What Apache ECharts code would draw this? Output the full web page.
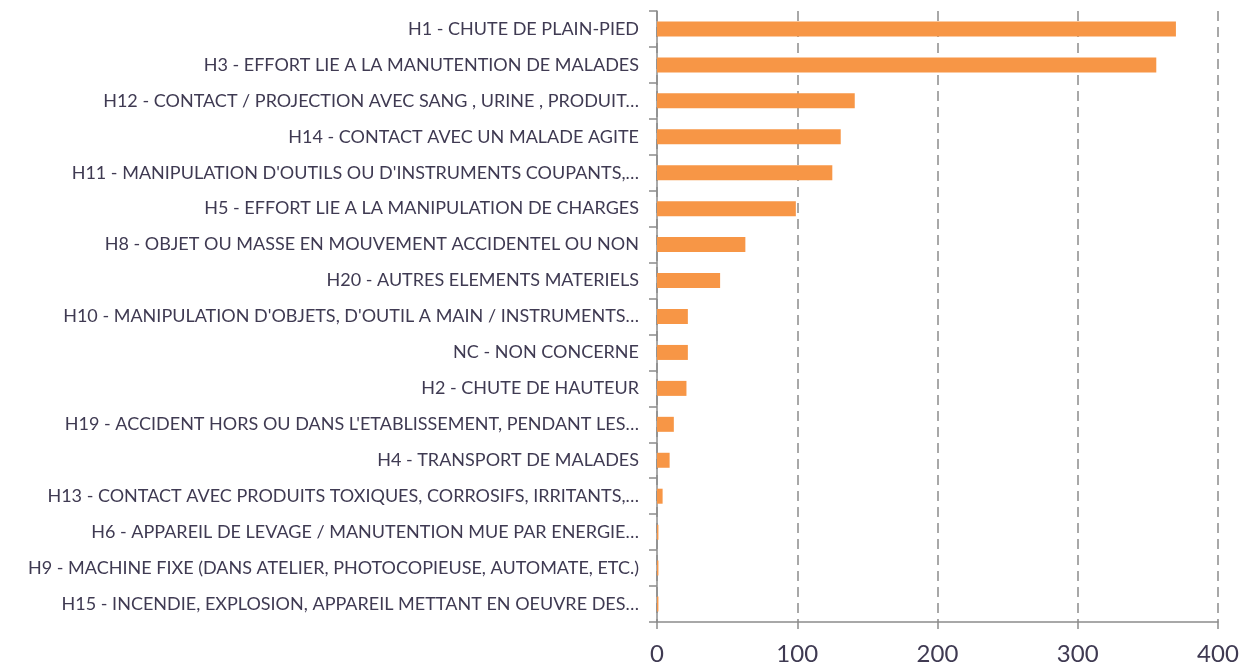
<!DOCTYPE html>
<html>
<head>
<meta charset="utf-8">
<script src="https://cdn.jsdelivr.net/npm/echarts@6/dist/echarts.min.js"></script>
<style>
  html, body { margin: 0; padding: 0; background: #fff; }
  #chart { width: 1255px; height: 668px; }
</style>
</head>
<body>
<div id="chart"></div>
<script>
// categories (top to bottom)
var categories = [
  'H1 - CHUTE DE PLAIN-PIED',
  'H3 - EFFORT LIE A LA MANUTENTION DE MALADES',
  'H12 - CONTACT / PROJECTION AVEC SANG , URINE , PRODUIT…',
  'H14 - CONTACT AVEC UN MALADE AGITE',
  "H11 - MANIPULATION D'OUTILS OU D'INSTRUMENTS COUPANTS,…",
  'H5 - EFFORT LIE A LA MANIPULATION DE CHARGES',
  'H8 - OBJET OU MASSE EN MOUVEMENT ACCIDENTEL OU NON',
  'H20 - AUTRES ELEMENTS MATERIELS',
  "H10 - MANIPULATION D'OBJETS, D'OUTIL A MAIN / INSTRUMENTS…",
  'NC - NON CONCERNE',
  'H2 - CHUTE DE HAUTEUR',
  "H19 - ACCIDENT HORS OU DANS L'ETABLISSEMENT, PENDANT LES…",
  'H4 - TRANSPORT DE MALADES',
  'H13 - CONTACT AVEC PRODUITS TOXIQUES, CORROSIFS, IRRITANTS,…',
  'H6 - APPAREIL DE LEVAGE / MANUTENTION MUE PAR ENERGIE…',
  'H9 - MACHINE FIXE (DANS ATELIER, PHOTOCOPIEUSE, AUTOMATE, ETC.)',
  'H15 - INCENDIE, EXPLOSION, APPAREIL METTANT EN OEUVRE DES…'
];
// nombre d'accidents
var counts = [370, 356, 141, 131, 125, 99, 63, 45, 22, 22, 21, 12, 9, 4, 1, 1, 1];

var myChart = echarts.init(document.getElementById('chart'));
var option = {
  animation: false,
  grid: { left: 657, right: 37, top: 11, bottom: 46 },
  xAxis: {
    type: 'value',
    min: 0,
    max: 400,
    interval: 100,
    axisLine: { show: true, lineStyle: { color: '#8c8c8c', width: 1.5 } },
    axisTick: { show: true, length: 7, lineStyle: { color: '#8c8c8c', width: 1.5 } },
    axisLabel: { color: '#3f3a52', fontSize: 24, fontFamily: 'Lato', margin: 20 },
    splitLine: { show: true, lineStyle: { color: '#8c8c8c', width: 1.5, type: [10, 6] } }
  },
  yAxis: {
    type: 'category',
    inverse: true,
    data: categories,
    axisLine: { show: true, lineStyle: { color: '#8c8c8c', width: 1.5 } },
    axisTick: { show: true, length: 8, lineStyle: { color: '#8c8c8c', width: 1.5 } },
    axisLabel: { color: '#3f3a52', fontSize: 18, fontFamily: 'Lato', margin: 18 }
  },
  series: [{
    name: 'Accidents',
    type: 'bar',
    barWidth: 15,
    data: counts,
    itemStyle: { color: '#f79646' }
  }]
};
myChart.setOption(option);
</script>
</body>
</html>
